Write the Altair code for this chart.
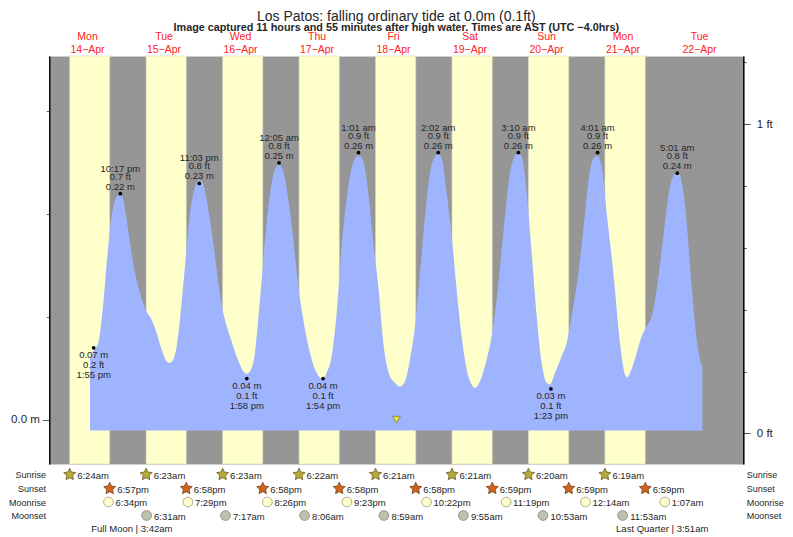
import altair as alt
import pandas as pd

FONT = "Liberation Sans"
TXT = "#262626"

tide_hours = [12.77,13.81,15.38,16.95,18.0,19.04,20.09,21.13,22.18,23.23,24.27,25.32,26.89,28.45,30.34,32.11,33.68,35.25,36.82,37.87,38.91,39.96,41.0,42.57,44.14,45.19,46.23,47.07,48.32,49.89,51.46,53.03,54.6,56.69,58.78,60.87,61.92,62.97,64.53,66.1,68.19,69.76,71.33,72.06,73.42,74.99,76.56,78.13,79.7,81.79,83.88,85.76,87.02,88.59,90.16,91.72,93.82,95.91,97.16,98.52,100.09,101.66,103.23,104.8,106.89,108.47,109.83,111.61,113.17,114.74,116.31,117.88,119.45,121.02,122.06,123.11,124.68,126.25,127.82,129.38,130.95,132.52,133.57,135.14,137.23,138.8,140.37,142.46,144.55,146.12,147.16,148.21,149.78,151.35,152.92,154.48,156.05,157.1,158.67,160.76,162.33,163.9,165.99,167.56,169.65,171.22,171.95,173.31,174.88,176.97,179.06,180.63,181.36,182.41,184.29,185.86,187.43,189.0,190.56,192.66,194.75,196.32,197.05,198.41,199.98,201.54,203.11,204.16,204.89]
tide_metres = [.0585,.0666,.0747,.1136,.1525,.1849,.2076,.2173,.2199,.2141,.1946,.1719,.1428,.1233,.1065,.0974,.0845,.0683,.0569,.0553,.0585,.0715,.0974,.1493,.2011,.2205,.2303,.2335,.2286,.2043,.1719,.1331,.1039,.0812,.0618,.0472,.0446,.0472,.0650,.1169,.1914,.2303,.2465,.2481,.2416,.2141,.1752,.1298,.0974,.0650,.0456,.0391,.0456,.0618,.1039,.1687,.2270,.2546,.2572,.2513,.2205,.1719,.1298,.0747,.0423,.0359,.0320,.0375,.0585,.0909,.1428,.1979,.2400,.2562,.2588,.2546,.2205,.1784,.1266,.0812,.0488,.0342,.0310,.0375,.0585,.0812,.1169,.1817,.2400,.2568,.2594,.2562,.2205,.1622,.1007,.0553,.0359,.0342,.0456,.0618,.0747,.1007,.1428,.1849,.2432,.2562,.2568,.2465,.2011,.1428,.0747,.0440,.0414,.0472,.0650,.0812,.0909,.1007,.1266,.1784,.2270,.2400,.2416,.2319,.1914,.1298,.0780,.0585,.0513]
TIDE_BASE = -0.0104

extreme_hours = [13.92,22.28,47.05,61.97,72.08,85.9,97.02,122.03,147.17,157.38,172.02,197.02]
extreme_metres = [0.07,0.22,0.23,0.04,0.25,0.04,0.26,0.26,0.26,0.03,0.26,0.24]
extreme_heights = ["0.07 m","0.22 m","0.23 m","0.04 m","0.25 m","0.04 m","0.26 m","0.26 m","0.26 m","0.03 m","0.26 m","0.24 m"]
extreme_feet = ["0.2 ft","0.7 ft","0.8 ft","0.1 ft","0.8 ft","0.1 ft","0.9 ft","0.9 ft","0.9 ft","0.1 ft","0.9 ft","0.8 ft"]
extreme_times = ["1:55 pm","10:17 pm","11:03 pm","1:58 pm","12:05 am","1:54 pm","1:01 am","2:02 am","3:10 am","1:23 pm","4:01 am","5:01 am"]
extreme_is_high = [False,True,True,False,True,False,True,True,True,False,True,True]

sunrise_hours = [6.4,30.38,54.38,78.37,102.35,126.35,150.33,174.32]
sunrise_labels = ["6:24am","6:23am","6:23am","6:22am","6:21am","6:21am","6:20am","6:19am"]
sunset_hours = [18.95,42.97,66.97,90.97,114.97,138.98,162.98,186.98]
sunset_labels = ["6:57pm","6:58pm","6:58pm","6:58pm","6:58pm","6:59pm","6:59pm","6:59pm"]
moonrise_hours = [18.57,43.48,68.43,93.38,118.37,143.32,168.23,193.12]
moonrise_labels = ["6:34pm","7:29pm","8:26pm","9:23pm","10:22pm","11:19pm","12:14am","1:07am"]
moonset_hours = [30.52,55.28,80.1,104.98,129.92,154.88,179.88]
moonset_labels = ["6:31am","7:17am","8:06am","8:59am","9:55am","10:53am","11:53am"]

day_hours = [12,36,60,84,108,132,156,180,204]
day_names = ["Mon","Tue","Wed","Thu","Fri","Sat","Sun","Mon","Tue"]
day_dates = ["14−Apr","15−Apr","16−Apr","17−Apr","18−Apr","19−Apr","20−Apr","21−Apr","22−Apr"]

note_hours = [25.9,192.3]
note_labels = ["Full Moon | 3:42am","Last Quarter | 3:51am"]

now_hour = [108.93]
now_metres = [0.0]

X_DOMAIN = [0, 217.74]
Y_M = [-0.0431, 0.354]
Y_FT = [-0.0989, 1.220]

def X(field="h"):
    return alt.X(f"{field}:Q", scale=alt.Scale(domain=X_DOMAIN, nice=False, zero=False), axis=None)

def Y(field="m"):
    return alt.Y(f"{field}:Q", scale=alt.Scale(domain=Y_M, nice=False, zero=False), axis=None)

tide_df = pd.DataFrame({"h": tide_hours, "m": tide_metres, "base": [TIDE_BASE] * len(tide_hours)})
ext_df = pd.DataFrame({"h": extreme_hours, "m": extreme_metres, "mt": extreme_heights, "ft": extreme_feet,
                       "t": extreme_times, "high": extreme_is_high})
band_df = pd.DataFrame({"h": sunrise_hours, "h2": sunset_hours})

bands = alt.Chart(band_df).mark_rect(color="#ffffcc", stroke="#d8d8c0", strokeWidth=0.6).encode(
    x=X("h"), x2="h2:Q")

left_axis = alt.Axis(values=[0, 0.1, 0.2, 0.3], title=None, grid=False, orient="left",
                     labelExpr="datum.value == 0 ? '0.0 m' : ''",
                     labelFont=FONT, labelFontSize=11.5, labelColor=TXT, labelPadding=3,
                     tickColor="#333333", tickWidth=0.8,
                     tickSize=alt.expr("datum.value == 0 ? 7 : 3"),
                     domainColor="#000000", domainWidth=1.5)

area = alt.Chart(tide_df).mark_area(color="#9fb4ff", opacity=1, interpolate="monotone").encode(
    x=X(), y=alt.Y("m:Q", scale=alt.Scale(domain=Y_M, nice=False, zero=False), axis=left_axis),
    y2="base:Q")

dots = alt.Chart(ext_df).mark_point(filled=True, color="#000000", size=14, opacity=1).encode(x=X(), y=Y())

def ext_text(field, high, dy):
    d = ext_df[ext_df["high"] == high]
    return alt.Chart(d).mark_text(font=FONT, fontSize=9.5, color=TXT, dy=dy, baseline="middle").encode(
        x=X(), y=Y(), text=f"{field}:N")

ext_layers = [ext_text("mt", True, -7), ext_text("ft", True, -17), ext_text("t", True, -25),
              ext_text("mt", False, 7), ext_text("ft", False, 17.5), ext_text("t", False, 27)]

now_mark = alt.Chart(pd.DataFrame({"h": now_hour, "m": now_metres})).mark_point(
    shape="triangle-down", filled=True, fill="#e8e23c", stroke="#777733", strokeWidth=0.7, size=60, opacity=1
).encode(x=X(), y=Y())

right_axis = alt.Axis(values=[0, 0.2, 0.4, 0.6, 0.8, 1.0, 1.2], title=None, grid=False, orient="right",
                      labelExpr="datum.value == 0 ? '0 ft' : datum.value == 1 ? '1 ft' : ''",
                      labelFont=FONT, labelFontSize=11.5, labelColor=TXT, labelPadding=6,
                      tickColor="#333333", tickWidth=0.8,
                      tickSize=alt.expr("datum.value == 0 || datum.value == 1 ? 7 : 3"),
                      domainColor="#000000", domainWidth=1.5)
feet_layer = alt.Chart(pd.DataFrame({"h": [0], "ft": [0]})).mark_point(opacity=0).encode(
    x=X(), y=alt.Y("ft:Q", scale=alt.Scale(domain=Y_FT, nice=False, zero=False), axis=right_axis))

STAR = ("M0,-1.1L0.32,-0.42L1.05,-0.34L0.52,0.17L0.65,0.9L0,0.55L-0.65,0.9L-0.52,0.17"
        "L-1.05,-0.34L-0.32,-0.42Z")

def txt(df, y, **kw):
    base = dict(font=FONT, baseline="middle")
    base.update(kw)
    return alt.Chart(df).mark_text(**base).encode(x=X(), y=alt.value(y), text="t:N")

def event_row(hours, labels, y, marker, dx):
    df = pd.DataFrame({"h": hours, "t": labels})
    pts = alt.Chart(df).mark_point(opacity=1, **marker).encode(x=X(), y=alt.value(y - 0.5))
    lab = txt(df, y + 0.5, fontSize=9.5, color=TXT, align="left", dx=dx)
    return [pts, lab]

star_sun = dict(shape=STAR, size=130, filled=True, fill="#b5aa3c", stroke="#6e5a20", strokeWidth=0.8)
star_set = dict(shape=STAR, size=130, filled=True, fill="#d2601e", stroke="#6e4a20", strokeWidth=0.8)
moon_up = dict(shape="circle", size=95, filled=True, fill="#ffffcc", stroke="#9a9a80", strokeWidth=0.8)
moon_dn = dict(shape="circle", size=95, filled=True, fill="#c0c0ae", stroke="#808078", strokeWidth=0.8)

rows = (event_row(sunrise_hours, sunrise_labels, 419, star_sun, 7.5)
        + event_row(sunset_hours, sunset_labels, 433, star_set, 7.5)
        + event_row(moonrise_hours, moonrise_labels, 446.5, moon_up, 7)
        + event_row(moonset_hours, moonset_labels, 460, moon_dn, 7.5))

row_names = ["Sunrise", "Sunset", "Moonrise", "Moonset"]
row_y = [419, 433, 446.5, 460]
row_labels = []
for name, y in zip(row_names, row_y):
    d = pd.DataFrame({"t": [name]})
    row_labels.append(alt.Chart(d).mark_text(font=FONT, fontSize=9, color=TXT, align="right", baseline="middle").encode(
        x=alt.value(-3.3), y=alt.value(y), text="t:N"))
    row_labels.append(alt.Chart(d).mark_text(font=FONT, fontSize=9, color=TXT, align="left", baseline="middle").encode(
        x=alt.value(697.4), y=alt.value(y), text="t:N"))

note_df = pd.DataFrame({"h": note_hours, "t": note_labels})
notes = txt(note_df, 473, fontSize=9.5, color=TXT, align="center")

day_df1 = pd.DataFrame({"h": day_hours, "t": day_names})
day_df2 = pd.DataFrame({"h": day_hours, "t": day_dates})
days = [txt(day_df1, -19.5, fontSize=10.5, color="#ff2020", align="center"),
        txt(day_df2, -6.5, fontSize=10.5, color="#ff2020", align="center")]

chart = alt.layer(bands, area, dots, *ext_layers, now_mark, feet_layer, *rows, *row_labels, notes, *days).resolve_scale(y="independent").properties(
    width=694, height=408,
    title=alt.TitleParams(
        text="Los Patos: falling  ordinary tide at 0.0m (0.1ft)",
        subtitle="Image captured 11 hours and 55 minutes after high water. Times are AST (UTC −4.0hrs)",
        font=FONT, fontSize=14, fontWeight="normal", color=TXT,
        subtitleFont=FONT, subtitleFontSize=10.8, subtitleFontWeight="bold", subtitleColor=TXT,
        subtitlePadding=-2, anchor="middle", frame="group", offset=-1),
    padding={"left": 41.3, "top": 48, "right": 41.7, "bottom": 71},
    autosize=alt.AutoSizeParams(type="none"),
).configure_view(fill="#969696", stroke="#cfcfcf", strokeWidth=1)

chart.save("out.html", embed_options={"renderer": "svg", "actions": False})
